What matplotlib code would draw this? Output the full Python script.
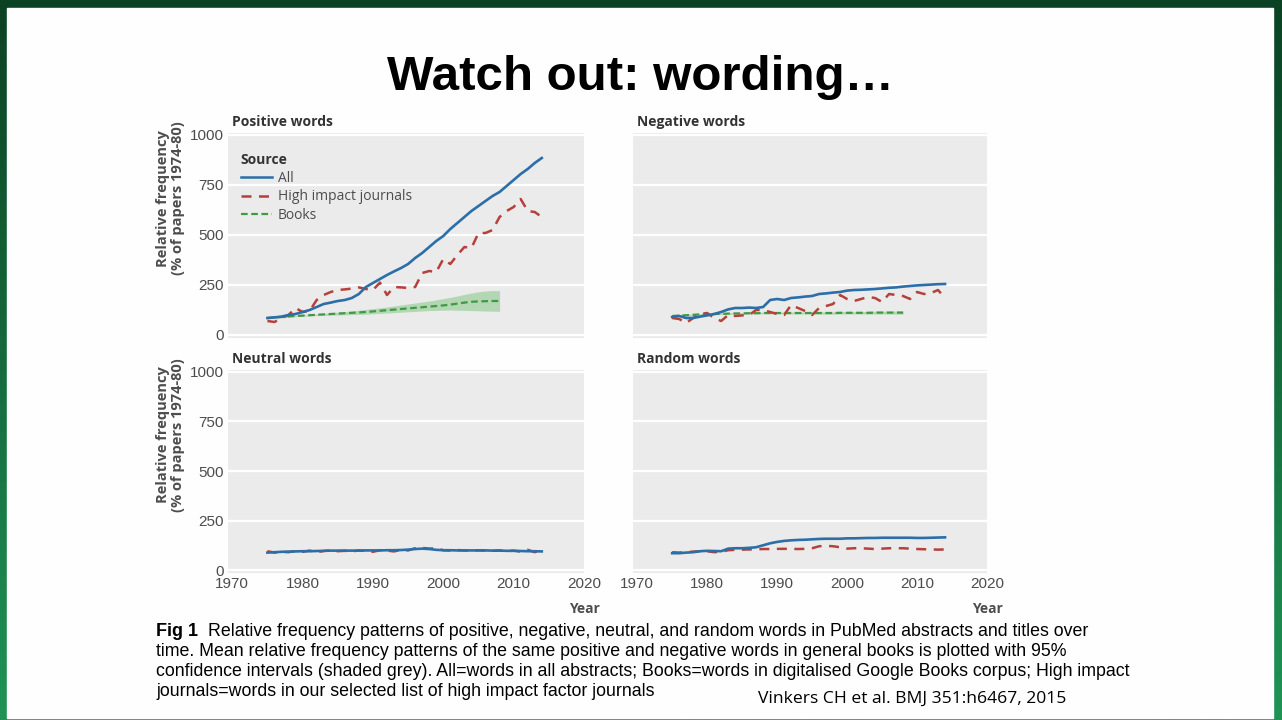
import matplotlib
matplotlib.use('Agg')
import matplotlib.pyplot as plt
import numpy as np
from matplotlib.lines import Line2D

# -------------------------------------------------------------------------------------------------------------------- #
# DATA

years = list(range(1975, 2015))
book_years = list(range(1975, 2009))

pos_all = [85, 88, 92, 100, 105, 115, 125, 140, 155, 162, 170, 175, 185, 205, 240, 260, 280, 300, 318, 335,
           355, 385, 410, 440, 470, 495, 530, 560, 590, 620, 645, 670, 695, 715, 745, 775, 805, 830, 860, 885]
pos_high = [70, 65, 85, 100, 135, 115, 120, 175, 200, 215, 225, 228, 232, 238, 230, 225, 262, 200, 240, 238,
            235, 240, 310, 320, 315, 380, 355, 400, 440, 435, 510, 510, 525, 590, 620, 640, 680, 620, 615, 590]
pos_books = [85, 88, 90, 93, 95, 97, 99, 101, 103, 105, 107, 109, 111, 113, 115, 118, 121, 124, 127, 130,
             133, 136, 139, 142, 145, 148, 152, 157, 162, 166, 168, 169, 170, 170]
pos_books_hi = [90, 92, 94, 96, 98, 100, 102, 105, 108, 111, 114, 117, 120, 124, 128, 132, 136, 140, 145, 150,
                155, 160, 165, 170, 176, 182, 188, 195, 203, 210, 216, 220, 222, 222]
pos_books_lo = [80, 84, 86, 89, 92, 94, 96, 97, 98, 99, 100, 101, 102, 103, 104, 106, 108, 110, 112, 114,
                116, 118, 120, 122, 123, 124, 125, 124, 123, 122, 121, 120, 119, 118]

neg_all = [90, 95, 85, 85, 92, 98, 105, 115, 128, 135, 135, 137, 135, 140, 175, 180, 175, 185, 188, 192,
           195, 205, 208, 212, 215, 222, 225, 226, 228, 230, 233, 236, 238, 242, 245, 248, 250, 252, 254, 255]
neg_high = [85, 80, 60, 85, 105, 110, 85, 70, 100, 95, 98, 100, 125, 125, 115, 105, 100, 150, 135, 120,
            100, 135, 145, 155, 200, 180, 170, 180, 190, 185, 165, 205, 200, 195, 180, 215, 205, 210, 225, 185]
neg_books = [95, 97, 99, 101, 103, 104, 105, 106, 107, 108, 108, 109, 109, 110, 110, 110, 110, 110, 110, 110,
             110, 110, 110, 110, 111, 111, 111, 111, 111, 112, 112, 112, 112, 112]
neg_books_hi = [99, 101, 103, 105, 107, 108, 109, 110, 111, 112, 112, 113, 113, 114, 114, 114, 115, 115, 115, 115,
                115, 116, 116, 116, 117, 117, 117, 117, 118, 119, 119, 119, 120, 120]
neg_books_lo = [91, 93, 95, 97, 99, 100, 101, 102, 103, 104, 104, 105, 105, 106, 106, 106, 105, 105, 105, 105,
                105, 104, 104, 104, 105, 105, 105, 105, 104, 105, 105, 105, 104, 104]

neu_all = [88, 90, 92, 93, 94, 95, 95, 96, 97, 98, 98, 98, 98, 98, 99, 99, 99, 100, 100, 101,
           103, 106, 108, 106, 102, 100, 100, 99, 99, 99, 99, 99, 98, 98, 97, 97, 96, 95, 95, 94]
neu_high = [95, 88, 92, 90, 96, 92, 98, 90, 96, 99, 95, 97, 94, 99, 96, 92, 100, 98, 94, 102,
            99, 110, 112, 108, 110, 100, 98, 101, 99, 97, 100, 98, 97, 99, 95, 98, 93, 102, 90, 103]

ran_all = [85, 85, 88, 90, 95, 97, 96, 95, 108, 110, 110, 112, 115, 125, 135, 142, 147, 150, 152, 153,
           155, 157, 158, 158, 158, 160, 160, 161, 162, 162, 163, 163, 163, 163, 163, 162, 162, 163, 164, 165]
ran_high = [90, 88, 90, 93, 95, 95, 90, 92, 100, 102, 103, 104, 105, 106, 106, 107, 107, 107, 106, 107,
            110, 120, 122, 120, 115, 108, 110, 110, 108, 106, 108, 110, 110, 110, 108, 106, 105, 104, 103, 104]

yticks = [0, 250, 500, 750, 1000]
xticks = [1970, 1980, 1990, 2000, 2010, 2020]

# -------------------------------------------------------------------------------------------------------------------- #
# STYLE

W, H = 1282, 720
BLUE = '#2b6ea8'
RED = '#b5413a'
GREEN = '#3f9a45'
PANEL = '#ebebeb'
GREY = '#4d4d4d'
NARROW = ['Liberation Sans Narrow', 'Liberation Sans', 'DejaVu Sans']
BOLD = ['Open Sans', 'DejaVu Sans']

fig = plt.figure(figsize=(W / 100, H / 100), dpi=100)

# slide frame
bg = fig.add_axes([0, 0, 1, 1])
grad = np.linspace(0, 1, 256).reshape(-1, 1)
bg.imshow(grad, extent=[0, W, H, 0], aspect='auto',
          cmap=matplotlib.colors.LinearSegmentedColormap.from_list('g', ['#0b4224', '#1f9455']))
bg.add_patch(plt.Rectangle((7, 8), W - 16, H - 10, color='#fdfefd', zorder=2))
bg.set_xlim(0, W)
bg.set_ylim(H, 0)
bg.axis('off')


def px_axes(x0, y0, x1, y1):
    return fig.add_axes([x0 / W, 1 - y1 / H, (x1 - x0) / W, (y1 - y0) / H])


def style(ax, left, bottom):
    ax.set_facecolor(PANEL)
    for s in ax.spines.values():
        s.set_visible(False)
    ax.set_xlim(1969.4, 2020)
    ax.set_ylim(-15, 1010)
    ax.set_yticks(yticks)
    ax.set_xticks(xticks)
    ax.grid(axis='y', color='white', lw=1.6)
    ax.set_axisbelow(True)
    ax.tick_params(length=0, pad=3, labelsize=11, labelcolor=GREY)
    for t in ax.get_xticklabels() + ax.get_yticklabels():
        t.set_family(NARROW)
    if not left:
        ax.set_yticklabels([])
    if not bottom:
        ax.set_xticklabels([])
    else:
        ax.text(1.0, -0.145, 'Year', transform=ax.transAxes, ha='center', va='top',
                fontsize=10, fontweight='bold', color=GREY, family=BOLD)
    if left:
        ax.set_ylabel('Relative frequency\n(% of papers 1974-80)', fontsize=10.5, fontweight='bold',
                      color=GREY, family=BOLD, linespacing=1.05)
        ax.yaxis.set_label_coords(-0.122, 0.68)


panels = [
    ((228, 133, 584, 338), 'Positive words', pos_all, pos_high, (pos_books, pos_books_lo, pos_books_hi), True, False),
    ((633, 133, 987, 338), 'Negative words', neg_all, neg_high, (neg_books, neg_books_lo, neg_books_hi), False, False),
    ((228, 370, 584, 573), 'Neutral words', neu_all, neu_high, None, True, True),
    ((633, 370, 987, 573), 'Random words', ran_all, ran_high, None, False, True),
]

for box, title, all_v, high_v, books, left, bottom in panels:
    ax = px_axes(*box)
    style(ax, left, bottom)
    ax.text(0.01, 1.02, title, transform=ax.transAxes, ha='left', va='bottom',
            fontsize=10, fontweight='bold', color='#333333', family=BOLD)
    if books is not None:
        b, lo, hi = books
        ax.fill_between(book_years, lo, hi, color='#9fd19f', alpha=0.75, lw=0, zorder=2)
        ax.plot(book_years, b, color=GREEN, lw=1.6, ls=(0, (3, 1.6)), zorder=3)
    ax.plot(years, high_v, color=RED, lw=1.8, ls=(0, (4, 3)), zorder=4)
    ax.plot(years, all_v, color=BLUE, lw=1.9, zorder=5)

    if title == 'Positive words':
        handles = [Line2D([], [], color=BLUE, lw=1.8),
                   Line2D([], [], color=RED, lw=1.8, ls=(0, (4, 3))),
                   Line2D([], [], color=GREEN, lw=1.6, ls=(0, (3, 1.6)))]
        leg = ax.legend(handles, ['All', 'High impact journals', 'Books'], title='Source',
                        loc='upper left', bbox_to_anchor=(0.0, 0.965), frameon=False,
                        handlelength=2.3, handletextpad=0.4, labelspacing=0.28,
                        prop={'family': BOLD, 'size': 10}, alignment='left')
        leg.get_title().set_fontweight('bold')
        leg.get_title().set_family(BOLD)
        leg.get_title().set_fontsize(10)
        leg.get_title().set_color('#333333')
        for t in leg.get_texts():
            t.set_color(GREY)

# slide title and caption
fig.text(640 / W, 1 - 77 / H, 'Watch out: wording\u2026', ha='center', va='center',
         fontsize=35.5, fontweight='bold', family=['Liberation Sans', 'DejaVu Sans'])

cap_lines = [
    'Relative frequency patterns of positive, negative, neutral, and random words in PubMed abstracts and titles over',
    'time. Mean relative frequency patterns of the same positive and negative words in general books is plotted with 95%',
    'confidence intervals (shaded grey). All=words in all abstracts; Books=words in digitalised Google Books corpus; High impact',
    'journals=words in our selected list of high impact factor journals',
]
fig.text(156 / W, 1 - 632 / H, 'Fig 1', ha='left', va='center', fontsize=13, fontweight='bold', family=NARROW)
fig.text(208 / W, 1 - 632 / H, cap_lines[0], ha='left', va='center', fontsize=12.8, family=NARROW)
for i, line in enumerate(cap_lines[1:]):
    fig.text(156 / W, 1 - (652 + 20 * i) / H, line, ha='left', va='center', fontsize=12.8, family=NARROW)

fig.text(758 / W, 1 - 699 / H, 'Vinkers CH et al. BMJ 351:h6467, 2015', ha='left', va='center',
         fontsize=12.6, family=['Open Sans', 'DejaVu Sans'])

fig.savefig('out.png', dpi=100)
